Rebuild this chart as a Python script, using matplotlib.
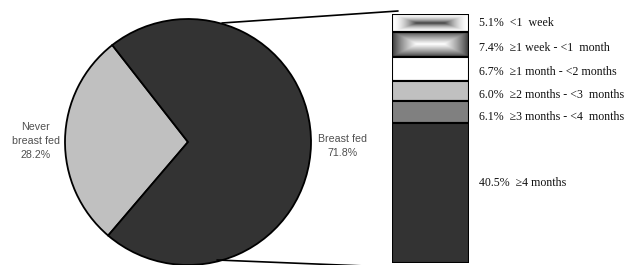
import numpy as np
import matplotlib
matplotlib.use("Agg")
import matplotlib.pyplot as plt

# pie data
pie_labels = ["Never\nbreast fed\n28.2%", "Breast fed\n71.8%"]
pie_values = [28.2, 71.8]
pie_colors = ["#c0c0c0", "#333333"]

# breakdown of breast fed (top to bottom)
dur_labels = ["<1  week", "≥1 week - <1  month", "≥1 month - <2 months",
              "≥2 months - <3  months", "≥3 months - <4  months", "≥4 months"]
dur_values = [5.1, 7.4, 6.7, 6.0, 6.1, 40.5]
dur_fill = ["grad_dark_center", "grad_light_center", "#ffffff", "#c0c0c0", "#808080", "#333333"]

W, H = 633, 265
fig = plt.figure(figsize=(W / 100, H / 100), dpi=100)
ax = fig.add_axes([0, 0, 1, 1])

ax.pie(pie_values, colors=pie_colors, startangle=128, counterclock=True,
       center=(188, 265 - 142), radius=123,
       wedgeprops=dict(edgecolor="black", linewidth=1.3))
ax.set_xlim(0, W)
ax.set_ylim(0, H)
ax.set_aspect("equal")
ax.axis("off")

sans = ["Liberation Sans Narrow", "Liberation Sans", "DejaVu Sans"]
ax.text(36, 265 - 141, pie_labels[0], ha="center", va="center", fontsize=7.7,
        color="#505050", family=sans, linespacing=1.5)
ax.text(343, 265 - 146, pie_labels[1], ha="center", va="center", fontsize=7.7,
        color="#505050", family=sans, linespacing=1.5)

# connector lines
ax.plot([222, 398], [265 - 23, 265 - 11], color="black", lw=1.2, solid_capstyle="round")
ax.plot([217, 390], [265 - 260, 265 - 267], color="black", lw=1.2, solid_capstyle="round")

# stacked bar
bx0, by0, bw, bh = 392, 2, 77, 249
bax = fig.add_axes([bx0 / W, by0 / H, bw / W, bh / H])
total = sum(dur_values)
tops = total - np.concatenate([[0], np.cumsum(dur_values)[:-1]])
bottoms = tops - np.array(dur_values)


def rect_grad(n=160, m=40, core=0.35):
    # rectangular gradient: 0 at the middle, 1 at the box edge
    u = np.abs(np.linspace(-1, 1, n))[None, :]
    v = np.abs(np.linspace(-1, 1, m))[:, None]
    u2 = np.clip((u - core) / (1 - core), 0, 1)
    return np.maximum(u2, v)


for v, b, f in zip(dur_values, bottoms, dur_fill):
    if f.startswith("grad"):
        d = rect_grad()
        if f == "grad_dark_center":
            img = 1 - 0.75 * (1 - d) ** 1.8
        else:
            img = 0.2 + 0.8 * (1 - d) ** 0.8
        bax.imshow(img, cmap="gray", vmin=0, vmax=1, aspect="auto",
                   extent=(0, 1, b, b + v), interpolation="bilinear", zorder=1)
        bax.bar(0.5, v, bottom=b, width=1, color="none", edgecolor="black",
                linewidth=1.5, zorder=2)
    else:
        bax.bar(0.5, v, bottom=b, width=1, color=f, edgecolor="black",
                linewidth=1.5, zorder=2)
bax.set_xlim(0, 1)
bax.set_ylim(0, total)
bax.axis("off")

# labels for the bar
serif = ["Liberation Serif", "DejaVu Serif"]
label_y = [23, 48, 72, 95, 117, 183]
for v, lab, y in zip(dur_values, dur_labels, label_y):
    ax.text(479, 265 - y, f"{v:.1f}%  {lab}", ha="left", va="center",
            fontsize=8.6, color="#111111", family=serif)

fig.savefig("out.png", dpi=100)
